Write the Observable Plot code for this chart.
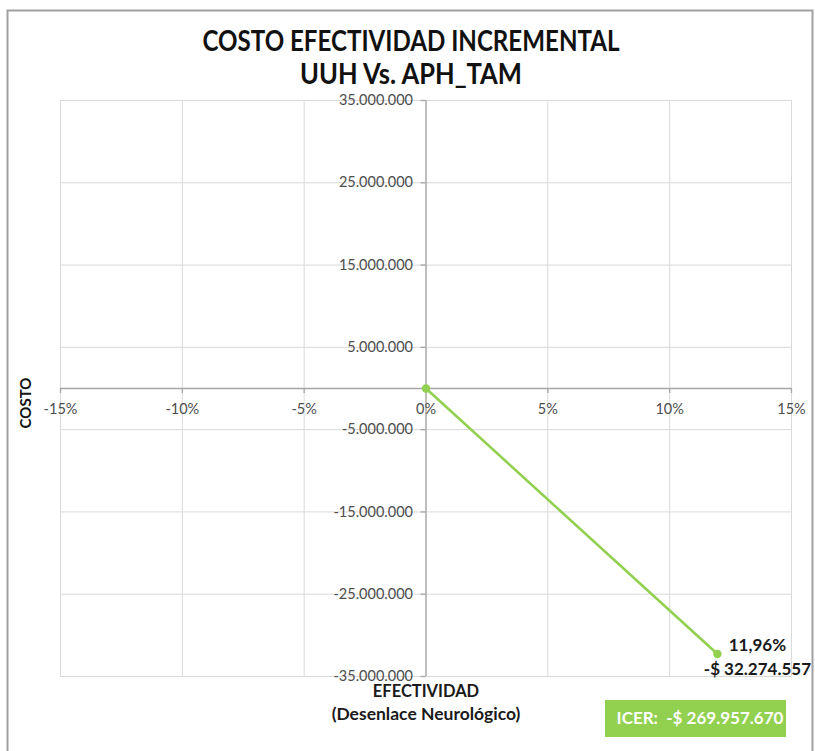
<!DOCTYPE html>
<html>
<head>
<meta charset="utf-8">
<script src="https://cdn.jsdelivr.net/npm/d3@7"></script>
<script src="https://cdn.jsdelivr.net/npm/@observablehq/plot@0.6"></script>
<style>
  html, body { margin: 0; padding: 0; background: #fff; }
  #chart { width: 815px; height: 751px; overflow: hidden; }
</style>
</head>
<body>
<div id="chart"></div>
<script>
// ---- Data ----
const titleLines = ["COSTO EFECTIVIDAD INCREMENTAL", "UUH Vs. APH_TAM"];
const xLabelLines = ["EFECTIVIDAD", "(Desenlace Neurológico)"];
const yLabel = "COSTO";
const xTicks = [-0.15, -0.10, -0.05, 0, 0.05, 0.10, 0.15];
const yTicks = [35000000, 25000000, 15000000, 5000000, -5000000, -15000000, -25000000, -35000000];
const effect = [0, 0.1196];
const cost = [0, -32274557];
const pointLabels = ["", "11,96%\n-$ 32.274.557"];
const icerLabel = "ICER:  -$ 269.957.670";

const points = effect.map((e, i) => ({effect: e, cost: cost[i], label: pointLabels[i]}));

const locale = d3.formatLocale({decimal: ",", thousands: ".", grouping: [3], currency: ["$", ""], minus: "-"});
const yFmt = locale.format(",.0f");
const xFmt = v => Math.round(v * 100) + "%";

const FONT = "Lato, 'Open Sans', sans-serif";
const green = "#92D050";

const plot = Plot.plot({
  width: 815,
  height: 751,
  marginTop: 100,
  marginBottom: 75,
  marginLeft: 60,
  marginRight: 24,
  x: {domain: [-0.15, 0.15], axis: null},
  y: {domain: [-35000000, 35000000], axis: null},
  style: {fontFamily: FONT, background: "transparent", overflow: "visible"},
  marks: [
    Plot.ruleX(xTicks, {x: d => d, stroke: "#d9d9d9", strokeWidth: 1, strokeOpacity: 1}),
    Plot.ruleY(yTicks, {y: d => d, stroke: "#d9d9d9", strokeWidth: 1, strokeOpacity: 1}),
    Plot.ruleX([0], {x: d => d, stroke: "#a6a6a6", strokeWidth: 1.3, strokeOpacity: 1}),
    Plot.ruleY([0], {y: d => d, stroke: "#a6a6a6", strokeWidth: 1.3, strokeOpacity: 1}),
    Plot.ruleX(xTicks, {x: d => d, y1: 0, y2: 0, insetBottom: -5, stroke: "#a6a6a6", strokeWidth: 1.3}),
    Plot.ruleY(yTicks, {y: d => d, x1: 0, x2: 0, insetLeft: -5, stroke: "#a6a6a6", strokeWidth: 1.3}),
    Plot.text(xTicks, {x: d => d, y: 0, dy: 21, text: d => xFmt(d), fill: "#4d4d4d", fontSize: 14.5}),
    Plot.text(yTicks, {x: 0, y: d => d, dx: -13, textAnchor: "end", text: d => yFmt(d), fill: "#4d4d4d", fontSize: 14.5}),
    Plot.line(points, {x: "effect", y: "cost", stroke: green, strokeWidth: 2.6}),
    Plot.dot(points, {x: "effect", y: "cost", r: 4.2, fill: green, stroke: "none"}),
    Plot.text(points, {x: "effect", y: "cost", text: "label", dx: 40, dy: 1, fontSize: 17, fontWeight: "bold", fill: "#1a1a1a", lineHeight: 1.4})
  ]
});

document.getElementById("chart").appendChild(plot);

const svg = d3.select(plot);
// outer border
svg.append("rect")
  .attr("x", 7.5).attr("y", 10.5).attr("width", 805).attr("height", 800)
  .attr("fill", "none").attr("stroke", "#a0a0a0").attr("stroke-width", 2);

// title
const tWidths = [417, 222];
const tY = [51, 84];
titleLines.forEach((t, i) => {
  svg.append("text")
    .attr("x", 411).attr("y", tY[i])
    .attr("text-anchor", "middle")
    .attr("textLength", tWidths[i]).attr("lengthAdjust", "spacingAndGlyphs")
    .style("font-family", FONT).style("font-weight", "bold").style("font-size", "28px")
    .attr("fill", "#111").text(t);
});

// y label
svg.append("text")
  .attr("transform", "translate(31,403) rotate(-90)")
  .attr("text-anchor", "middle")
  .style("font-family", FONT).style("font-weight", "bold").style("font-size", "15px")
  .attr("fill", "#111").text(yLabel);

// x label
const xlY = [697, 720];
xLabelLines.forEach((t, i) => {
  svg.append("text")
    .attr("x", 426).attr("y", xlY[i])
    .attr("text-anchor", "middle")
    .style("font-family", FONT).style("font-weight", "bold").style("font-size", i === 0 ? "16.5px" : "17.5px")
    .attr("fill", "#1a1a1a").text(t);
});

// ICER box
svg.append("rect").attr("x", 605).attr("y", 700).attr("width", 181).attr("height", 37).attr("fill", green);
svg.append("text")
  .attr("x", 700).attr("y", 724)
  .attr("text-anchor", "middle")
  .style("font-family", FONT).style("font-weight", "bold").style("font-size", "17px")
  .attr("fill", "#fff").text(icerLabel);
</script>
</body>
</html>
